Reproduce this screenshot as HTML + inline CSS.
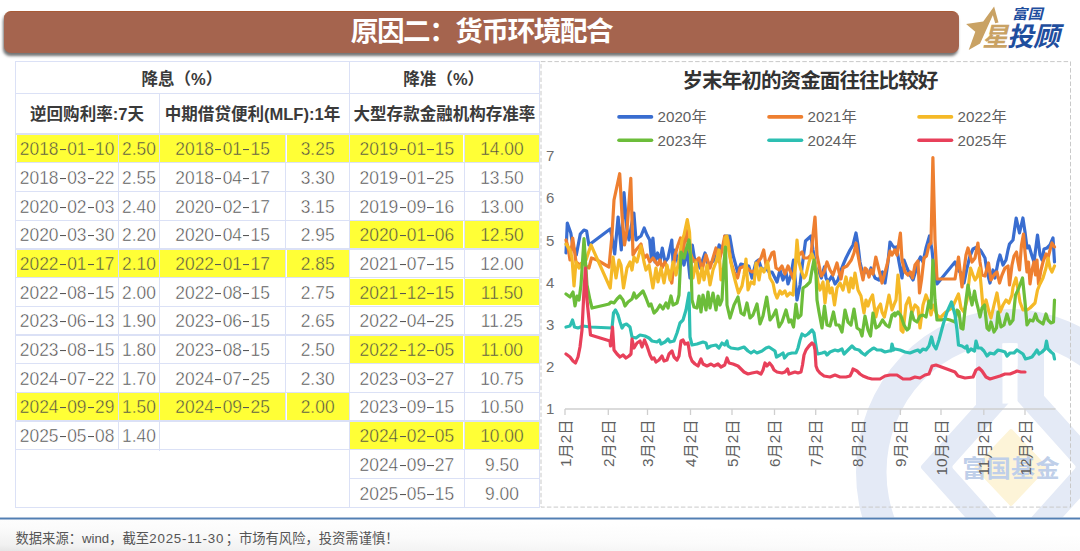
<!DOCTYPE html>
<html><head><meta charset="utf-8"><title>slide</title>
<style>
html,body{margin:0;padding:0}
body{width:1080px;height:551px;position:relative;overflow:hidden;background:#fff;font-family:"Liberation Sans",sans-serif}
.foot{position:absolute;left:0;top:519px;width:1080px;height:32px;background:linear-gradient(100deg,#e9e9e9 0%,#f4f4f4 18%,#fdfdfd 45%,#fff 60%)}
.rule{position:absolute;left:0;top:517.6px;width:1080px;height:1.6px;background:#5d86b4}
.bar{position:absolute;left:4px;top:11px;width:955px;height:42px;border-radius:7px;background:#a5644e;border-top:1px solid #a85a36;box-sizing:border-box;box-shadow:-1px 3px 3px rgba(0,0,0,.55)}
.l{position:absolute;background:#dbe1f6}
.y{position:absolute;background:#ffff36}
.c{position:absolute;text-align:center;font-size:17.4px;color:#454545;white-space:nowrap;padding-top:0.8px;transform:scaleY(1.055)}
.c{-webkit-text-stroke:0.45px #fff}
.cy{-webkit-text-stroke:0.45px #ffff36}
.c i{display:inline-block;width:6.1px;height:1.1px;background:#555;vertical-align:4.9px;margin:0 1.25px}
svg.ov{position:absolute;left:0;top:0}
</style></head><body>
<div class="bar"></div>
<div class="tbl"><div class="l" style="left:15.1px;top:60.9px;width:525.3px;height:1.4px"></div><div class="l" style="left:15.1px;top:92.5px;width:525.3px;height:1.4px"></div><div class="l" style="left:15.1px;top:133.4px;width:525.3px;height:1.4px"></div><div class="l" style="left:15.1px;top:506.5px;width:525.3px;height:1.4px"></div><div class="l" style="left:15.1px;top:162.1px;width:525.3px;height:1.4px"></div><div class="l" style="left:15.1px;top:190.8px;width:525.3px;height:1.4px"></div><div class="l" style="left:15.1px;top:219.5px;width:525.3px;height:1.4px"></div><div class="l" style="left:15.1px;top:248.2px;width:525.3px;height:1.4px"></div><div class="l" style="left:15.1px;top:276.9px;width:525.3px;height:1.4px"></div><div class="l" style="left:15.1px;top:305.6px;width:525.3px;height:1.4px"></div><div class="l" style="left:15.1px;top:334.3px;width:525.3px;height:1.4px"></div><div class="l" style="left:15.1px;top:363.0px;width:525.3px;height:1.4px"></div><div class="l" style="left:15.1px;top:391.7px;width:525.3px;height:1.4px"></div><div class="l" style="left:15.1px;top:420.4px;width:525.3px;height:1.4px"></div><div class="l" style="left:15.1px;top:449.1px;width:525.3px;height:1.4px"></div><div class="l" style="left:348.8px;top:477.8px;width:191.6px;height:1.4px"></div><div class="l" style="left:15.1px;top:60.9px;width:1.4px;height:447.0px"></div><div class="l" style="left:539.0px;top:60.9px;width:1.4px;height:447.0px"></div><div class="l" style="left:348.8px;top:60.9px;width:1.4px;height:447.0px"></div><div class="l" style="left:158.8px;top:92.5px;width:1.4px;height:358.0px"></div><div class="l" style="left:117.8px;top:133.4px;width:1.4px;height:317.1px"></div><div class="l" style="left:285.1px;top:133.4px;width:1.4px;height:288.4px"></div><div class="l" style="left:463.5px;top:133.4px;width:1.4px;height:374.5px"></div><div class="y" style="left:16.7px;top:135.0px;width:100.9px;height:26.9px"></div><div class="c cy" style="left:15.8px;top:134.1px;width:102.7px;height:28.7px;line-height:28.7px">2018<i></i>01<i></i>10</div><div class="y" style="left:119.4px;top:135.0px;width:39.2px;height:26.9px"></div><div class="c cy" style="left:118.5px;top:134.1px;width:41.0px;height:28.7px;line-height:28.7px">2.50</div><div class="y" style="left:160.4px;top:135.0px;width:124.5px;height:26.9px"></div><div class="c cy" style="left:159.5px;top:134.1px;width:126.3px;height:28.7px;line-height:28.7px">2018<i></i>01<i></i>15</div><div class="y" style="left:286.7px;top:135.0px;width:61.9px;height:26.9px"></div><div class="c cy" style="left:285.8px;top:134.1px;width:63.7px;height:28.7px;line-height:28.7px">3.25</div><div class="c" style="left:15.8px;top:162.8px;width:102.7px;height:28.7px;line-height:28.7px">2018<i></i>03<i></i>22</div><div class="c" style="left:118.5px;top:162.8px;width:41.0px;height:28.7px;line-height:28.7px">2.55</div><div class="c" style="left:159.5px;top:162.8px;width:126.3px;height:28.7px;line-height:28.7px">2018<i></i>04<i></i>17</div><div class="c" style="left:285.8px;top:162.8px;width:63.7px;height:28.7px;line-height:28.7px">3.30</div><div class="c" style="left:15.8px;top:191.5px;width:102.7px;height:28.7px;line-height:28.7px">2020<i></i>02<i></i>03</div><div class="c" style="left:118.5px;top:191.5px;width:41.0px;height:28.7px;line-height:28.7px">2.40</div><div class="c" style="left:159.5px;top:191.5px;width:126.3px;height:28.7px;line-height:28.7px">2020<i></i>02<i></i>17</div><div class="c" style="left:285.8px;top:191.5px;width:63.7px;height:28.7px;line-height:28.7px">3.15</div><div class="c" style="left:15.8px;top:220.2px;width:102.7px;height:28.7px;line-height:28.7px">2020<i></i>03<i></i>30</div><div class="c" style="left:118.5px;top:220.2px;width:41.0px;height:28.7px;line-height:28.7px">2.20</div><div class="c" style="left:159.5px;top:220.2px;width:126.3px;height:28.7px;line-height:28.7px">2020<i></i>04<i></i>15</div><div class="c" style="left:285.8px;top:220.2px;width:63.7px;height:28.7px;line-height:28.7px">2.95</div><div class="y" style="left:16.7px;top:249.8px;width:100.9px;height:26.9px"></div><div class="c cy" style="left:15.8px;top:248.9px;width:102.7px;height:28.7px;line-height:28.7px">2022<i></i>01<i></i>17</div><div class="y" style="left:119.4px;top:249.8px;width:39.2px;height:26.9px"></div><div class="c cy" style="left:118.5px;top:248.9px;width:41.0px;height:28.7px;line-height:28.7px">2.10</div><div class="y" style="left:160.4px;top:249.8px;width:124.5px;height:26.9px"></div><div class="c cy" style="left:159.5px;top:248.9px;width:126.3px;height:28.7px;line-height:28.7px">2022<i></i>01<i></i>17</div><div class="y" style="left:286.7px;top:249.8px;width:61.9px;height:26.9px"></div><div class="c cy" style="left:285.8px;top:248.9px;width:63.7px;height:28.7px;line-height:28.7px">2.85</div><div class="c" style="left:15.8px;top:277.6px;width:102.7px;height:28.7px;line-height:28.7px">2022<i></i>08<i></i>15</div><div class="c" style="left:118.5px;top:277.6px;width:41.0px;height:28.7px;line-height:28.7px">2.00</div><div class="c" style="left:159.5px;top:277.6px;width:126.3px;height:28.7px;line-height:28.7px">2022<i></i>08<i></i>15</div><div class="c" style="left:285.8px;top:277.6px;width:63.7px;height:28.7px;line-height:28.7px">2.75</div><div class="c" style="left:15.8px;top:306.3px;width:102.7px;height:28.7px;line-height:28.7px">2023<i></i>06<i></i>13</div><div class="c" style="left:118.5px;top:306.3px;width:41.0px;height:28.7px;line-height:28.7px">1.90</div><div class="c" style="left:159.5px;top:306.3px;width:126.3px;height:28.7px;line-height:28.7px">2023<i></i>06<i></i>15</div><div class="c" style="left:285.8px;top:306.3px;width:63.7px;height:28.7px;line-height:28.7px">2.65</div><div class="c" style="left:15.8px;top:335.0px;width:102.7px;height:28.7px;line-height:28.7px">2023<i></i>08<i></i>15</div><div class="c" style="left:118.5px;top:335.0px;width:41.0px;height:28.7px;line-height:28.7px">1.80</div><div class="c" style="left:159.5px;top:335.0px;width:126.3px;height:28.7px;line-height:28.7px">2023<i></i>08<i></i>15</div><div class="c" style="left:285.8px;top:335.0px;width:63.7px;height:28.7px;line-height:28.7px">2.50</div><div class="c" style="left:15.8px;top:363.7px;width:102.7px;height:28.7px;line-height:28.7px">2024<i></i>07<i></i>22</div><div class="c" style="left:118.5px;top:363.7px;width:41.0px;height:28.7px;line-height:28.7px">1.70</div><div class="c" style="left:159.5px;top:363.7px;width:126.3px;height:28.7px;line-height:28.7px">2024<i></i>07<i></i>25</div><div class="c" style="left:285.8px;top:363.7px;width:63.7px;height:28.7px;line-height:28.7px">2.30</div><div class="y" style="left:16.7px;top:393.3px;width:100.9px;height:26.9px"></div><div class="c cy" style="left:15.8px;top:392.4px;width:102.7px;height:28.7px;line-height:28.7px">2024<i></i>09<i></i>29</div><div class="y" style="left:119.4px;top:393.3px;width:39.2px;height:26.9px"></div><div class="c cy" style="left:118.5px;top:392.4px;width:41.0px;height:28.7px;line-height:28.7px">1.50</div><div class="y" style="left:160.4px;top:393.3px;width:124.5px;height:26.9px"></div><div class="c cy" style="left:159.5px;top:392.4px;width:126.3px;height:28.7px;line-height:28.7px">2024<i></i>09<i></i>25</div><div class="y" style="left:286.7px;top:393.3px;width:61.9px;height:26.9px"></div><div class="c cy" style="left:285.8px;top:392.4px;width:63.7px;height:28.7px;line-height:28.7px">2.00</div><div class="c" style="left:15.8px;top:421.1px;width:102.7px;height:28.7px;line-height:28.7px">2025<i></i>05<i></i>08</div><div class="c" style="left:118.5px;top:421.1px;width:41.0px;height:28.7px;line-height:28.7px">1.40</div><div class="y" style="left:350.4px;top:135.0px;width:112.9px;height:26.9px"></div><div class="c cy" style="left:349.5px;top:134.1px;width:114.7px;height:28.7px;line-height:28.7px">2019<i></i>01<i></i>15</div><div class="y" style="left:465.1px;top:135.0px;width:73.7px;height:26.9px"></div><div class="c cy" style="left:464.2px;top:134.1px;width:75.5px;height:28.7px;line-height:28.7px">14.00</div><div class="c" style="left:349.5px;top:162.8px;width:114.7px;height:28.7px;line-height:28.7px">2019<i></i>01<i></i>25</div><div class="c" style="left:464.2px;top:162.8px;width:75.5px;height:28.7px;line-height:28.7px">13.50</div><div class="c" style="left:349.5px;top:191.5px;width:114.7px;height:28.7px;line-height:28.7px">2019<i></i>09<i></i>16</div><div class="c" style="left:464.2px;top:191.5px;width:75.5px;height:28.7px;line-height:28.7px">13.00</div><div class="y" style="left:350.4px;top:221.1px;width:112.9px;height:26.9px"></div><div class="c cy" style="left:349.5px;top:220.2px;width:114.7px;height:28.7px;line-height:28.7px">2020<i></i>01<i></i>06</div><div class="y" style="left:465.1px;top:221.1px;width:73.7px;height:26.9px"></div><div class="c cy" style="left:464.2px;top:220.2px;width:75.5px;height:28.7px;line-height:28.7px">12.50</div><div class="c" style="left:349.5px;top:248.9px;width:114.7px;height:28.7px;line-height:28.7px">2021<i></i>07<i></i>15</div><div class="c" style="left:464.2px;top:248.9px;width:75.5px;height:28.7px;line-height:28.7px">12.00</div><div class="y" style="left:350.4px;top:278.5px;width:112.9px;height:26.9px"></div><div class="c cy" style="left:349.5px;top:277.6px;width:114.7px;height:28.7px;line-height:28.7px">2021<i></i>12<i></i>15</div><div class="y" style="left:465.1px;top:278.5px;width:73.7px;height:26.9px"></div><div class="c cy" style="left:464.2px;top:277.6px;width:75.5px;height:28.7px;line-height:28.7px">11.50</div><div class="c" style="left:349.5px;top:306.3px;width:114.7px;height:28.7px;line-height:28.7px">2022<i></i>04<i></i>25</div><div class="c" style="left:464.2px;top:306.3px;width:75.5px;height:28.7px;line-height:28.7px">11.25</div><div class="y" style="left:350.4px;top:335.9px;width:112.9px;height:26.9px"></div><div class="c cy" style="left:349.5px;top:335.0px;width:114.7px;height:28.7px;line-height:28.7px">2022<i></i>12<i></i>05</div><div class="y" style="left:465.1px;top:335.9px;width:73.7px;height:26.9px"></div><div class="c cy" style="left:464.2px;top:335.0px;width:75.5px;height:28.7px;line-height:28.7px">11.00</div><div class="c" style="left:349.5px;top:363.7px;width:114.7px;height:28.7px;line-height:28.7px">2023<i></i>03<i></i>27</div><div class="c" style="left:464.2px;top:363.7px;width:75.5px;height:28.7px;line-height:28.7px">10.75</div><div class="c" style="left:349.5px;top:392.4px;width:114.7px;height:28.7px;line-height:28.7px">2023<i></i>09<i></i>15</div><div class="c" style="left:464.2px;top:392.4px;width:75.5px;height:28.7px;line-height:28.7px">10.50</div><div class="y" style="left:350.4px;top:422.0px;width:112.9px;height:26.9px"></div><div class="c cy" style="left:349.5px;top:421.1px;width:114.7px;height:28.7px;line-height:28.7px">2024<i></i>02<i></i>05</div><div class="y" style="left:465.1px;top:422.0px;width:73.7px;height:26.9px"></div><div class="c cy" style="left:464.2px;top:421.1px;width:75.5px;height:28.7px;line-height:28.7px">10.00</div><div class="c" style="left:349.5px;top:449.8px;width:114.7px;height:28.7px;line-height:28.7px">2024<i></i>09<i></i>27</div><div class="c" style="left:464.2px;top:449.8px;width:75.5px;height:28.7px;line-height:28.7px">9.50</div><div class="c" style="left:349.5px;top:478.5px;width:114.7px;height:28.7px;line-height:28.7px">2025<i></i>05<i></i>15</div><div class="c" style="left:464.2px;top:478.5px;width:75.5px;height:28.7px;line-height:28.7px">9.00</div></div>
<svg class="ov" width="1080" height="551" viewBox="0 0 1080 551">
<defs><linearGradient id="fg" x1="0" y1="1" x2="0.75" y2="0"><stop offset="0" stop-color="#e6e6e6"/><stop offset="0.12" stop-color="#f1f1f1"/><stop offset="0.45" stop-color="#fbfbfb"/><stop offset="0.8" stop-color="#fff"/></linearGradient></defs>
<g>
<path fill="#e4eaf6" fill-rule="evenodd" d="M856 472 a154 163 0 1 0 308 0 a154 163 0 1 0 -308 0Z M886.5 472 a123.5 129 0 1 0 247 0 a123.5 129 0 1 0 -247 0Z"/>
<rect x="976" y="338" width="26.5" height="80" fill="#e4eaf6"/>
<rect x="1017.5" y="338" width="26.5" height="80" fill="#e4eaf6"/>
<path fill="#e4eaf6" stroke="#e4eaf6" stroke-width="6" stroke-linejoin="round" d="M924 467 L1014 367 L1104 467 L1014 567Z"/>
<path fill="#fff" stroke="#fff" stroke-width="5" stroke-linejoin="round" d="M955 467 L1014 401 L1073 467 L1014 533Z"/>
<rect x="1002.5" y="343.6" width="15" height="60" fill="#fff"/>
<path fill="#fdf4d8" stroke="#fdf4d8" stroke-width="4" stroke-linejoin="round" d="M976.5 467.5 L1011 431 L1045.5 467.5 L1011 504Z"/>
<text x="962.3" y="477.3" font-size="24" font-weight="bold" letter-spacing="0.4" fill="#bfcfe9" font-family="'Liberation Sans','Noto Sans CJK SC',sans-serif">富国基金</text>
</g>
<rect x="0" y="518" width="1080" height="33" fill="#fff"/>
<rect x="0" y="518" width="1080" height="33" fill="url(#fg)"/>
<rect x="0" y="517.1" width="1080" height="0.8" fill="#b7c8de"/>
<rect x="0" y="517.8" width="1080" height="1.7" fill="#527fb3"/>
<g font-family="'Liberation Sans','Noto Sans CJK SC',sans-serif">
<rect x="541" y="61.6" width="529.5" height="445.5" fill="none" stroke="#c9c9c9" stroke-width="1" stroke-dasharray="4.5 2.2"/>
<text x="682.47" y="88.2" font-size="20.6" font-weight="bold" letter-spacing="-0.98" fill="#333">岁末年初的资金面往往比较好</text>
<line x1="619" y1="116.9" x2="651.5" y2="116.9" stroke="#396dd0" stroke-width="3.6" stroke-linecap="round"/>
<text x="657.5" y="122.2" font-size="15.2" fill="#606060">2020</text>
<text x="691.4" y="122.4" font-size="15.3" fill="#606060">年</text>
<line x1="769" y1="116.9" x2="801.5" y2="116.9" stroke="#ee7f30" stroke-width="3.6" stroke-linecap="round"/>
<text x="807.5" y="122.2" font-size="15.2" fill="#606060">2021</text>
<text x="841.4" y="122.4" font-size="15.3" fill="#606060">年</text>
<line x1="919" y1="116.9" x2="951.5" y2="116.9" stroke="#f5b927" stroke-width="3.6" stroke-linecap="round"/>
<text x="957.5" y="122.2" font-size="15.2" fill="#606060">2022</text>
<text x="991.4" y="122.4" font-size="15.3" fill="#606060">年</text>
<line x1="619" y1="140.2" x2="651.5" y2="140.2" stroke="#6cbd3a" stroke-width="3.6" stroke-linecap="round"/>
<text x="657.5" y="145.5" font-size="15.2" fill="#606060">2023</text>
<text x="691.4" y="145.7" font-size="15.3" fill="#606060">年</text>
<line x1="769" y1="140.2" x2="801.5" y2="140.2" stroke="#2dbfb2" stroke-width="3.6" stroke-linecap="round"/>
<text x="807.5" y="145.5" font-size="15.2" fill="#606060">2024</text>
<text x="841.4" y="145.7" font-size="15.3" fill="#606060">年</text>
<line x1="919" y1="140.2" x2="951.5" y2="140.2" stroke="#e8405a" stroke-width="3.6" stroke-linecap="round"/>
<text x="957.5" y="145.5" font-size="15.2" fill="#606060">2025</text>
<text x="991.4" y="145.7" font-size="15.3" fill="#606060">年</text>
<text x="554.3" y="414.2" font-size="15" fill="#6e6e6e" text-anchor="end">1</text>
<text x="554.3" y="372.0" font-size="15" fill="#6e6e6e" text-anchor="end">2</text>
<text x="554.3" y="329.9" font-size="15" fill="#6e6e6e" text-anchor="end">3</text>
<text x="554.3" y="287.7" font-size="15" fill="#6e6e6e" text-anchor="end">4</text>
<text x="554.3" y="245.5" font-size="15" fill="#6e6e6e" text-anchor="end">5</text>
<text x="554.3" y="203.3" font-size="15" fill="#6e6e6e" text-anchor="end">6</text>
<text x="554.3" y="161.2" font-size="15" fill="#6e6e6e" text-anchor="end">7</text>
<path d="M565 409H1055.5" stroke="#cfcfcf" stroke-width="1.3" fill="none"/>
<path d="M565 409v6M608.3 409v6M647.5 409v6M690.5 409v6M732 409v6M774.5 409v6M815.7 409v6M857.9 409v6M900.4 409v6M941 409v6M983.8 409v6M1025 409v6" stroke="#cfcfcf" stroke-width="1.3" fill="none"/>
<g transform="translate(570.5 467.0) rotate(-90)"><text x="0" y="0" font-size="15.3" fill="#606060">1</text><text x="8.51" y="0.2" font-size="15.3" fill="#606060">月</text><text x="23.81" y="0" font-size="15.3" fill="#606060">2</text><text x="32.31" y="0.2" font-size="15.3" fill="#606060">日</text></g>
<g transform="translate(613.8 467.0) rotate(-90)"><text x="0" y="0" font-size="15.3" fill="#606060">2</text><text x="8.51" y="0.2" font-size="15.3" fill="#606060">月</text><text x="23.81" y="0" font-size="15.3" fill="#606060">2</text><text x="32.31" y="0.2" font-size="15.3" fill="#606060">日</text></g>
<g transform="translate(653.0 467.0) rotate(-90)"><text x="0" y="0" font-size="15.3" fill="#606060">3</text><text x="8.51" y="0.2" font-size="15.3" fill="#606060">月</text><text x="23.81" y="0" font-size="15.3" fill="#606060">2</text><text x="32.31" y="0.2" font-size="15.3" fill="#606060">日</text></g>
<g transform="translate(696.0 467.0) rotate(-90)"><text x="0" y="0" font-size="15.3" fill="#606060">4</text><text x="8.51" y="0.2" font-size="15.3" fill="#606060">月</text><text x="23.81" y="0" font-size="15.3" fill="#606060">2</text><text x="32.31" y="0.2" font-size="15.3" fill="#606060">日</text></g>
<g transform="translate(737.5 467.0) rotate(-90)"><text x="0" y="0" font-size="15.3" fill="#606060">5</text><text x="8.51" y="0.2" font-size="15.3" fill="#606060">月</text><text x="23.81" y="0" font-size="15.3" fill="#606060">2</text><text x="32.31" y="0.2" font-size="15.3" fill="#606060">日</text></g>
<g transform="translate(780.0 467.0) rotate(-90)"><text x="0" y="0" font-size="15.3" fill="#606060">6</text><text x="8.51" y="0.2" font-size="15.3" fill="#606060">月</text><text x="23.81" y="0" font-size="15.3" fill="#606060">2</text><text x="32.31" y="0.2" font-size="15.3" fill="#606060">日</text></g>
<g transform="translate(821.2 467.0) rotate(-90)"><text x="0" y="0" font-size="15.3" fill="#606060">7</text><text x="8.51" y="0.2" font-size="15.3" fill="#606060">月</text><text x="23.81" y="0" font-size="15.3" fill="#606060">2</text><text x="32.31" y="0.2" font-size="15.3" fill="#606060">日</text></g>
<g transform="translate(863.4 467.0) rotate(-90)"><text x="0" y="0" font-size="15.3" fill="#606060">8</text><text x="8.51" y="0.2" font-size="15.3" fill="#606060">月</text><text x="23.81" y="0" font-size="15.3" fill="#606060">2</text><text x="32.31" y="0.2" font-size="15.3" fill="#606060">日</text></g>
<g transform="translate(905.9 467.0) rotate(-90)"><text x="0" y="0" font-size="15.3" fill="#606060">9</text><text x="8.51" y="0.2" font-size="15.3" fill="#606060">月</text><text x="23.81" y="0" font-size="15.3" fill="#606060">2</text><text x="32.31" y="0.2" font-size="15.3" fill="#606060">日</text></g>
<g transform="translate(946.5 475.5) rotate(-90)"><text x="0" y="0" font-size="15.3" fill="#606060">10</text><text x="17.01" y="0.2" font-size="15.3" fill="#606060">月</text><text x="32.31" y="0" font-size="15.3" fill="#606060">2</text><text x="40.82" y="0.2" font-size="15.3" fill="#606060">日</text></g>
<g transform="translate(989.3 475.5) rotate(-90)"><text x="0" y="0" font-size="15.3" fill="#606060">11</text><text x="17.01" y="0.2" font-size="15.3" fill="#606060">月</text><text x="32.31" y="0" font-size="15.3" fill="#606060">2</text><text x="40.82" y="0.2" font-size="15.3" fill="#606060">日</text></g>
<g transform="translate(1030.5 475.5) rotate(-90)"><text x="0" y="0" font-size="15.3" fill="#606060">12</text><text x="17.01" y="0.2" font-size="15.3" fill="#606060">月</text><text x="32.31" y="0" font-size="15.3" fill="#606060">2</text><text x="40.82" y="0.2" font-size="15.3" fill="#606060">日</text></g>
<path d="M566.0 253.0 L567.3 223.0 L570.8 233.0 L572.7 245.0 L576.3 255.0 L580.3 234.0 L583.9 230.0 L586.6 231.0 L588.9 245.0 L610.2 229.0 L612.0 237.0 L614.7 254.0 L618.1 217.0 L621.3 250.0 L624.0 192.6 L626.8 228.0 L629.0 240.0 L631.5 225.0 L633.9 213.0 L636.0 240.0 L638.0 238.0 L641.0 236.0 L644.2 228.0 L647.0 235.0 L649.7 240.0 L651.5 260.0 L652.9 238.0 L655.0 262.0 L657.6 253.0 L660.0 262.0 L662.3 248.0 L665.0 262.0 L668.0 258.0 L671.8 240.0 L673.0 262.0 L675.0 250.0 L678.0 262.0 L681.0 255.0 L684.0 265.0 L687.0 250.0 L690.0 278.0 L692.3 245.0 L695.0 262.0 L697.0 260.0 L700.0 268.0 L705.0 253.0 L708.0 265.0 L712.0 262.0 L716.0 258.0 L719.2 245.0 L722.0 250.0 L724.7 240.0 L725.0 236.0 L729.7 236.0 L733.0 255.0 L737.6 272.0 L740.8 264.0 L745.0 265.0 L748.7 266.0 L752.0 278.0 L756.0 262.0 L758.5 260.0 L762.0 270.0 L766.0 268.0 L769.0 272.0 L772.0 272.0 L777.0 282.0 L780.0 270.0 L783.0 280.0 L786.0 272.0 L788.0 284.0 L791.0 275.0 L793.5 260.0 L797.0 300.0 L800.0 285.0 L802.3 265.0 L805.5 241.0 L811.0 236.0 L813.0 250.0 L816.0 268.0 L819.0 272.0 L821.3 278.0 L824.4 267.0 L826.0 278.0 L828.0 282.0 L832.0 276.0 L835.0 284.0 L838.0 280.0 L841.0 270.0 L843.0 265.0 L846.0 258.0 L850.0 250.0 L853.0 245.0 L856.0 233.0 L858.0 245.0 L860.0 262.0 L863.0 275.0 L866.0 270.0 L869.0 275.0 L871.0 268.0 L875.0 278.0 L879.0 280.0 L882.5 272.0 L885.0 283.0 L888.0 262.0 L890.0 242.0 L892.0 245.0 L894.7 248.0 L896.5 247.0 L899.0 262.0 L902.0 278.0 L904.0 260.0 L907.0 268.0 L910.0 275.0 L913.0 280.0 L916.0 270.0 L918.0 262.0 L920.5 257.0 L923.0 262.0 L926.0 248.0 L929.5 236.0 L932.0 250.0 L934.0 270.0 L937.0 284.0 L955.0 262.0 L958.0 270.0 L961.0 273.0 L964.0 283.0 L967.0 268.0 L970.0 256.0 L973.0 249.0 L977.0 247.0 L981.0 251.0 L985.0 258.0 L987.0 272.0 L990.0 283.0 L993.0 270.0 L995.0 278.0 L998.0 262.0 L1000.0 255.0 L1003.0 265.0 L1006.0 260.0 L1008.0 250.0 L1009.5 244.0 L1013.0 240.0 L1016.2 218.0 L1019.5 233.0 L1022.9 218.0 L1025.0 232.0 L1027.0 248.0 L1029.0 246.0 L1032.0 256.0 L1034.0 262.0 L1037.5 235.0 L1040.0 255.0 L1042.0 260.0 L1044.0 249.0 L1047.0 248.0 L1050.0 245.0 L1053.0 238.0 L1054.5 262.0" fill="none" stroke="#396dd0" stroke-width="3.2" stroke-linejoin="round" stroke-linecap="round"/>
<path d="M566.0 240.0 L568.0 247.0 L570.0 260.0 L572.7 238.0 L576.0 262.0 L580.0 265.0 L583.0 262.0 L586.0 266.0 L588.9 268.0 L591.5 258.0 L597.0 260.0 L609.0 267.0 L612.0 235.0 L614.0 200.0 L619.7 173.7 L622.0 215.0 L624.5 245.0 L627.0 230.0 L630.8 178.4 L633.0 255.0 L636.0 250.0 L641.0 244.0 L644.0 258.0 L647.0 255.0 L649.7 262.0 L653.0 258.0 L657.6 265.0 L660.0 260.0 L662.0 268.0 L665.0 262.0 L668.0 270.0 L671.8 283.0 L675.0 255.0 L678.0 245.0 L680.5 238.0 L683.0 255.0 L686.0 228.0 L689.0 250.0 L692.3 258.0 L695.0 262.0 L699.0 258.0 L702.0 270.0 L706.0 255.0 L710.0 268.0 L713.0 258.0 L716.0 248.0 L719.0 262.0 L722.0 250.0 L724.7 236.0 L728.0 240.0 L731.0 262.0 L734.0 272.0 L737.6 278.0 L740.0 268.0 L745.0 266.0 L749.0 270.0 L752.0 272.0 L756.0 270.0 L758.0 262.0 L761.0 258.0 L763.7 250.0 L766.0 265.0 L769.0 260.0 L772.0 253.0 L773.9 252.0 L776.0 268.0 L779.0 270.0 L782.0 266.0 L785.0 274.0 L788.0 266.0 L791.0 273.0 L793.5 279.0 L796.0 262.0 L799.0 255.0 L802.0 252.0 L804.0 258.0 L808.0 258.0 L811.0 255.0 L813.0 235.0 L815.0 217.0 L817.0 255.0 L819.0 265.0 L821.3 276.0 L824.0 272.0 L827.0 262.0 L830.0 270.0 L833.0 275.0 L837.0 263.0 L839.0 272.0 L841.0 279.0 L843.0 268.0 L847.0 266.0 L851.3 260.0 L854.0 253.0 L856.0 243.0 L858.0 255.0 L860.0 266.0 L863.0 280.0 L865.0 268.0 L867.0 270.0 L869.0 277.0 L871.0 270.0 L873.0 274.0 L875.8 257.0 L879.0 270.0 L882.0 283.0 L884.0 276.0 L887.0 265.0 L890.0 251.0 L892.0 255.0 L894.7 250.0 L897.0 255.0 L900.4 233.0 L902.0 260.0 L905.0 272.0 L908.0 275.0 L910.5 272.0 L912.5 278.0 L915.0 265.0 L918.0 261.0 L919.5 293.0 L921.5 280.0 L924.0 258.0 L926.5 256.0 L929.0 245.0 L931.0 243.0 L932.9 157.6 L935.0 240.0 L937.0 279.0 L955.0 279.0 L958.5 257.0 L960.0 270.0 L962.0 287.0 L964.0 270.0 L966.0 255.0 L968.0 248.0 L970.0 255.0 L972.0 262.0 L975.0 258.0 L977.9 243.0 L980.0 262.0 L982.0 275.0 L985.0 276.0 L988.5 263.0 L991.0 280.0 L994.0 275.0 L997.0 272.0 L999.5 283.0 L1002.0 275.0 L1005.0 268.0 L1008.0 266.0 L1009.5 285.0 L1012.0 265.0 L1014.0 256.0 L1016.5 252.0 L1018.0 262.0 L1019.5 270.0 L1021.5 245.0 L1023.5 234.0 L1025.0 252.0 L1027.0 272.0 L1028.5 262.0 L1030.0 284.0 L1032.0 270.0 L1034.0 262.0 L1035.5 275.0 L1037.0 260.0 L1038.5 284.0 L1041.0 270.0 L1043.0 262.0 L1046.0 254.0 L1048.0 258.0 L1050.0 250.0 L1052.0 243.0 L1054.5 247.0" fill="none" stroke="#ee7f30" stroke-width="3.2" stroke-linejoin="round" stroke-linecap="round"/>
<path d="M566.0 244.0 L570.0 250.0 L572.0 258.0 L574.0 286.0 L576.0 262.0 L579.0 268.0 L583.0 262.0 L586.0 260.0 L591.0 245.0 L610.2 288.0 L613.0 257.0 L616.0 278.0 L619.0 260.0 L621.0 265.0 L623.5 288.0 L627.0 268.0 L630.0 262.0 L632.0 270.0 L634.0 257.0 L637.0 262.0 L641.0 246.0 L644.0 262.0 L646.0 270.0 L649.0 265.0 L652.9 288.0 L656.0 268.0 L658.0 282.0 L661.0 268.0 L664.0 283.0 L667.0 265.0 L670.0 280.0 L673.0 262.0 L676.0 275.0 L679.0 260.0 L682.0 240.0 L684.0 235.0 L687.3 219.5 L689.5 232.0 L691.0 262.0 L693.0 278.0 L696.0 262.0 L699.0 283.0 L702.0 268.0 L704.0 280.0 L707.0 265.0 L710.0 285.0 L713.0 270.0 L716.0 262.0 L719.0 250.0 L721.0 280.0 L724.7 262.0 L725.0 238.0 L727.0 236.0 L729.0 252.0 L732.0 268.0 L735.0 280.0 L738.5 293.0 L742.0 286.0 L744.0 275.0 L746.0 259.0 L748.0 290.0 L751.0 282.0 L754.0 284.0 L756.0 263.0 L759.0 280.0 L761.0 268.0 L764.0 272.0 L767.6 262.0 L770.0 278.0 L773.0 283.0 L775.0 293.0 L777.0 298.0 L780.0 291.0 L782.0 294.0 L785.0 291.0 L787.0 296.0 L790.0 293.0 L793.0 295.0 L795.0 270.0 L797.0 240.0 L799.0 262.0 L801.0 270.0 L804.0 278.0 L806.0 275.0 L809.0 262.0 L812.0 254.0 L815.0 262.0 L818.0 283.0 L820.0 290.0 L823.0 282.0 L825.0 303.0 L827.6 281.0 L830.0 293.0 L832.0 288.0 L834.5 305.0 L837.0 288.0 L840.0 283.0 L843.0 290.0 L846.0 277.0 L849.0 292.0 L851.0 278.0 L853.0 288.0 L855.0 273.0 L858.0 290.0 L861.0 296.0 L864.0 313.0 L866.0 300.0 L868.0 306.0 L870.0 300.0 L872.6 295.0 L874.0 305.0 L875.8 317.0 L878.0 308.0 L880.5 304.0 L882.0 312.0 L884.4 317.0 L887.0 305.0 L889.0 295.0 L892.0 310.0 L894.7 303.0 L896.0 300.0 L898.0 275.0 L900.0 295.0 L901.0 330.0 L903.0 332.0 L906.0 305.0 L909.0 298.0 L912.0 313.0 L915.0 305.0 L918.0 308.0 L920.0 328.0 L923.0 305.0 L926.0 295.0 L928.0 300.0 L931.0 315.0 L933.0 305.0 L937.0 315.0 L940.0 318.0 L946.0 312.0 L952.0 308.0 L958.5 294.0 L961.0 308.0 L964.0 312.0 L967.0 300.0 L968.0 290.0 L970.5 268.0 L973.0 275.0 L975.0 280.0 L977.0 277.0 L979.5 268.0 L981.5 290.0 L983.0 308.0 L986.0 300.0 L989.0 312.0 L991.0 318.0 L994.0 305.0 L997.0 293.0 L1000.0 312.0 L1003.0 305.0 L1006.0 300.0 L1009.0 303.0 L1012.0 295.0 L1013.0 287.0 L1016.0 278.0 L1018.0 290.0 L1020.0 302.0 L1023.0 310.0 L1027.0 310.0 L1030.0 308.0 L1033.0 305.0 L1035.0 303.0 L1037.5 290.0 L1040.0 284.0 L1043.0 278.0 L1046.0 268.0 L1048.0 258.0 L1050.0 268.0 L1052.0 272.0 L1054.5 266.0" fill="none" stroke="#f5b927" stroke-width="3.2" stroke-linejoin="round" stroke-linecap="round"/>
<path d="M566.0 294.0 L570.0 297.0 L573.0 292.0 L575.0 306.0 L577.0 296.0 L579.0 300.0 L581.0 285.0 L584.0 238.5 L587.0 285.0 L590.0 300.0 L592.0 308.0 L605.0 305.0 L609.0 304.0 L611.0 302.0 L614.0 303.0 L617.0 299.0 L620.0 296.0 L623.0 300.0 L625.0 306.0 L628.0 302.0 L632.0 299.0 L634.0 293.0 L636.0 298.0 L640.0 294.0 L643.0 291.0 L646.0 298.0 L649.0 306.0 L651.0 304.0 L654.0 313.0 L657.0 310.0 L660.0 305.0 L663.0 309.0 L666.0 303.0 L668.0 308.0 L671.0 296.0 L673.0 305.0 L677.0 303.0 L679.0 295.0 L681.0 252.0 L684.0 258.0 L686.0 250.0 L689.0 240.0 L691.0 262.0 L692.0 300.0 L694.0 307.0 L697.0 308.0 L699.0 296.0 L701.0 312.0 L703.0 295.0 L706.0 310.0 L708.0 292.0 L710.0 308.0 L713.0 293.0 L716.0 310.0 L718.0 296.0 L720.0 305.0 L722.0 300.0 L724.0 262.0 L725.5 247.0 L727.0 305.0 L730.0 318.0 L734.0 305.0 L738.0 297.0 L741.0 313.0 L744.0 315.0 L747.0 303.0 L750.0 318.0 L753.0 315.0 L757.0 304.0 L760.0 324.0 L763.0 316.0 L766.7 297.0 L770.0 320.0 L773.0 316.0 L776.0 310.0 L779.0 327.0 L782.0 322.0 L786.0 310.0 L789.0 322.0 L791.0 320.0 L793.5 327.0 L796.0 304.0 L798.0 318.0 L801.0 315.0 L803.0 288.0 L806.0 286.0 L810.0 282.0 L812.0 270.0 L814.0 260.0 L816.0 275.0 L817.0 300.0 L819.0 312.0 L822.0 328.0 L824.5 306.0 L827.0 325.0 L830.0 326.0 L833.5 312.0 L836.0 325.0 L839.0 325.0 L842.0 332.0 L845.0 310.0 L848.0 322.0 L851.0 325.0 L854.0 309.0 L857.0 328.0 L860.0 330.0 L862.0 336.0 L865.0 316.0 L868.0 330.0 L870.5 336.0 L873.0 313.0 L876.0 328.0 L879.0 326.0 L882.5 320.0 L886.0 325.0 L889.0 327.0 L892.0 315.0 L894.7 313.0 L895.0 316.0 L898.0 312.0 L901.0 316.0 L904.0 325.0 L907.0 330.0 L909.0 328.0 L911.5 312.0 L914.0 320.0 L917.0 322.0 L920.0 316.0 L923.0 315.0 L926.0 317.0 L929.0 301.0 L931.0 308.0 L932.9 260.0 L935.0 300.0 L937.0 320.0 L941.0 320.0 L946.0 319.0 L950.0 320.0 L955.0 322.0 L957.0 310.0 L959.0 312.0 L961.0 328.0 L963.0 329.0 L966.0 300.0 L968.0 285.0 L970.0 296.0 L972.0 305.0 L974.5 291.0 L976.0 300.0 L978.0 308.0 L980.0 317.0 L982.0 308.0 L984.5 305.0 L987.0 328.0 L989.0 330.0 L991.0 322.0 L994.0 332.0 L996.5 328.0 L998.0 312.0 L1001.0 327.0 L1004.0 325.0 L1007.0 314.0 L1010.0 324.0 L1013.0 320.0 L1015.5 295.0 L1018.0 290.0 L1022.5 278.0 L1025.0 302.0 L1027.0 325.0 L1030.0 320.0 L1033.0 321.0 L1035.5 314.0 L1037.5 320.0 L1040.0 322.0 L1043.0 324.0 L1046.0 314.0 L1048.0 320.0 L1051.0 323.0 L1053.5 322.0 L1054.5 300.0" fill="none" stroke="#6cbd3a" stroke-width="3.2" stroke-linejoin="round" stroke-linecap="round"/>
<path d="M566.0 327.0 L570.0 326.0 L572.5 320.0 L574.5 327.0 L578.0 328.0 L583.0 326.0 L590.0 327.0 L612.0 328.0 L613.5 313.0 L615.5 310.0 L618.0 315.0 L620.0 322.0 L622.0 328.0 L624.0 325.0 L626.5 324.0 L630.0 327.0 L632.0 337.0 L636.0 338.0 L640.0 335.0 L645.0 336.0 L649.0 338.0 L652.0 341.0 L657.0 342.0 L659.5 340.0 L661.0 344.0 L665.0 342.0 L668.0 339.0 L670.0 342.0 L674.0 341.0 L677.0 333.0 L680.0 323.0 L683.0 320.0 L686.0 310.0 L689.0 293.0 L690.0 337.0 L692.0 345.0 L697.0 344.0 L703.0 342.0 L706.0 343.0 L707.5 348.0 L711.0 346.0 L716.0 345.0 L719.0 348.0 L722.0 343.0 L724.7 345.0 L727.0 341.0 L728.0 346.0 L731.0 348.0 L738.0 349.0 L744.0 347.0 L748.0 351.0 L751.0 353.0 L754.0 351.0 L757.0 353.0 L762.0 351.0 L766.0 348.0 L769.0 347.0 L772.0 349.0 L775.0 351.0 L776.5 357.0 L780.0 355.0 L783.0 353.0 L784.5 358.0 L788.0 354.0 L792.0 353.0 L796.0 353.0 L798.0 348.0 L800.0 340.0 L802.0 334.0 L805.0 336.0 L808.0 334.0 L812.0 330.0 L814.0 333.0 L815.5 343.0 L817.0 352.0 L818.0 354.0 L822.0 353.0 L825.0 352.0 L827.0 355.0 L830.0 352.0 L835.0 350.0 L838.0 351.0 L842.0 349.0 L844.0 354.0 L848.0 350.0 L852.0 346.0 L855.0 349.0 L859.0 350.0 L862.0 353.0 L865.0 355.0 L868.0 352.0 L872.0 349.0 L874.0 348.0 L877.0 350.0 L881.0 350.0 L885.0 352.0 L889.0 351.0 L891.0 351.0 L892.0 344.0 L893.5 350.0 L894.7 349.0 L895.0 349.0 L900.0 350.0 L905.0 352.0 L910.0 353.0 L915.0 351.0 L918.0 350.0 L920.0 352.0 L923.0 349.0 L926.0 350.0 L929.0 346.0 L931.5 337.0 L933.5 345.0 L936.0 349.0 L939.0 340.0 L943.0 325.0 L947.0 312.0 L951.5 302.0 L955.0 315.0 L957.0 330.0 L958.5 345.0 L962.0 346.0 L965.0 348.0 L967.0 346.0 L968.0 352.0 L971.0 349.0 L974.5 351.0 L976.0 341.0 L978.0 348.0 L981.0 348.0 L984.0 351.0 L987.0 356.0 L990.0 353.0 L994.0 354.0 L998.0 350.0 L1002.0 351.0 L1005.0 352.0 L1007.0 356.0 L1010.0 353.0 L1014.0 353.0 L1017.0 350.0 L1020.0 352.0 L1023.0 354.0 L1025.5 359.0 L1029.0 358.0 L1032.0 357.0 L1035.0 353.0 L1037.0 350.0 L1039.0 354.0 L1042.0 352.0 L1045.0 349.0 L1046.5 341.0 L1048.0 349.0 L1051.0 352.0 L1053.5 354.0 L1054.5 359.0" fill="none" stroke="#2dbfb2" stroke-width="3.2" stroke-linejoin="round" stroke-linecap="round"/>
<path d="M566.0 354.0 L570.0 357.0 L573.0 361.0 L575.5 363.0 L578.0 357.0 L580.0 347.0 L582.0 330.0 L584.0 290.0 L585.5 268.0 L587.0 300.0 L589.0 320.0 L590.5 335.0 L597.0 337.0 L610.0 341.0 L610.5 346.0 L612.5 327.0 L614.0 350.0 L617.0 354.0 L620.0 357.0 L623.0 355.0 L626.0 358.0 L629.0 356.0 L631.0 354.0 L632.0 339.0 L634.0 348.0 L637.0 343.0 L640.0 341.0 L642.0 347.0 L644.5 340.0 L647.0 346.0 L650.0 355.0 L652.0 359.0 L654.0 358.0 L656.0 362.0 L659.0 360.0 L662.0 356.0 L664.0 361.0 L667.0 360.0 L669.0 354.0 L672.0 351.0 L674.0 357.0 L677.0 360.0 L679.0 356.0 L681.0 341.0 L683.0 340.0 L685.0 344.0 L688.0 343.0 L690.0 356.0 L692.0 361.0 L695.0 364.0 L698.0 366.0 L701.0 359.0 L703.0 364.0 L707.0 366.0 L711.0 364.0 L714.0 366.0 L718.0 364.0 L721.0 367.0 L724.7 365.0 L727.0 358.0 L729.0 363.0 L733.0 364.0 L738.0 366.0 L741.0 369.0 L744.0 372.0 L748.0 374.0 L752.0 373.0 L757.0 372.0 L761.0 374.0 L763.0 370.0 L765.0 363.0 L767.0 366.0 L769.5 363.0 L772.0 366.0 L774.0 370.0 L777.0 372.0 L782.0 373.0 L785.0 372.0 L787.5 369.0 L789.0 374.0 L792.0 373.0 L795.0 372.0 L798.0 373.0 L801.0 372.0 L802.5 365.0 L804.0 355.0 L806.0 350.0 L809.0 346.0 L812.0 343.0 L814.0 345.0 L815.0 350.0 L816.0 366.0 L817.5 370.0 L820.0 373.0 L824.0 376.0 L830.0 377.0 L835.0 375.0 L840.0 377.0 L846.0 377.0 L850.0 376.0 L852.0 372.0 L853.0 369.0 L857.0 371.0 L860.0 374.0 L863.0 376.0 L868.0 378.0 L872.0 379.0 L880.0 379.0 L885.0 376.0 L890.0 375.0 L894.7 375.0 L897.0 375.0 L903.0 379.0 L910.0 379.0 L915.0 377.0 L920.0 378.0 L925.0 375.0 L929.0 374.0 L932.0 366.0 L936.0 365.0 L955.0 372.0 L958.0 376.0 L965.0 378.0 L973.0 377.0 L976.0 370.0 L979.0 368.0 L982.0 371.0 L986.0 377.0 L990.0 379.0 L1000.0 376.0 L1005.0 374.0 L1010.0 374.0 L1015.0 372.0 L1017.0 371.0 L1021.0 372.0 L1025.0 372.0" fill="none" stroke="#e8405a" stroke-width="3.2" stroke-linejoin="round" stroke-linecap="round"/>
</g>
<g fill="#3a3a3a" font-family="'Liberation Sans','Noto Sans CJK SC',sans-serif" font-size="16.55" font-weight="bold">
<text x="141.39" y="84.6">降息（%）</text>
<text x="403.34" y="84.6">降准（%）</text>
<text x="30.06" y="120.4">逆回购利率:7天</text>
<text x="164.81" y="120.4">中期借贷便利(MLF):1年</text>
<text x="353.57" y="120.4">大型存款金融机构存准率</text>
</g>
<text x="350.75" y="41.3" font-size="27.6" font-weight="bold" letter-spacing="-1.45" fill="#fff" font-family="'Liberation Sans','Noto Sans CJK SC',sans-serif">原因二：货币环境配合</text>
<g fill="#555" font-family="'Liberation Sans','Noto Sans CJK SC',sans-serif"><text x="15.5" y="543.2" font-size="13.3">数据来源：</text><text x="82.00" y="543.20" font-size="13.2">wind</text><text x="109.15" y="543.2" font-size="13.3">，截至</text></g>
<g fill="#555" font-family="'Liberation Sans','Noto Sans CJK SC',sans-serif"><text x="149.35" y="543.20" font-size="13.3" letter-spacing="0.78">2025-11-30</text></g>
<g fill="#555" font-family="'Liberation Sans','Noto Sans CJK SC',sans-serif"><text x="225.68" y="543.2" font-size="13.3">；市场有风险，投资需谨慎！</text></g>
<path fill="#c9a264" d="M966.1 23.9 L983.2 21.6 L994.1 6.6 L998.5 22.6 L995.2 23.2 L992.8 15.3 L980.1 43.6 L968.7 50.1 L975.3 31.8 Z"/>
<g transform="translate(982.3 45.8) skewX(-14)"><text x="0" y="0" font-size="26" font-weight="bold" fill="#c9a264" font-family="'Liberation Sans','Noto Sans CJK SC',sans-serif">星</text></g>
<g transform="translate(1007 45.8) skewX(-14)"><text x="0" y="0" font-size="26.5" font-weight="bold" letter-spacing="-0.2" fill="#1f4e9e" font-family="'Liberation Sans','Noto Sans CJK SC',sans-serif">投顾</text></g>
<g transform="translate(1012 18.9) skewX(-14)"><text x="0" y="0" font-size="14.2" font-weight="bold" letter-spacing="0.24" transform="scale(1.0803 1)" fill="#1f4e9e" font-family="'Liberation Sans','Noto Sans CJK SC',sans-serif">富国</text></g>
</svg>
</body></html>
